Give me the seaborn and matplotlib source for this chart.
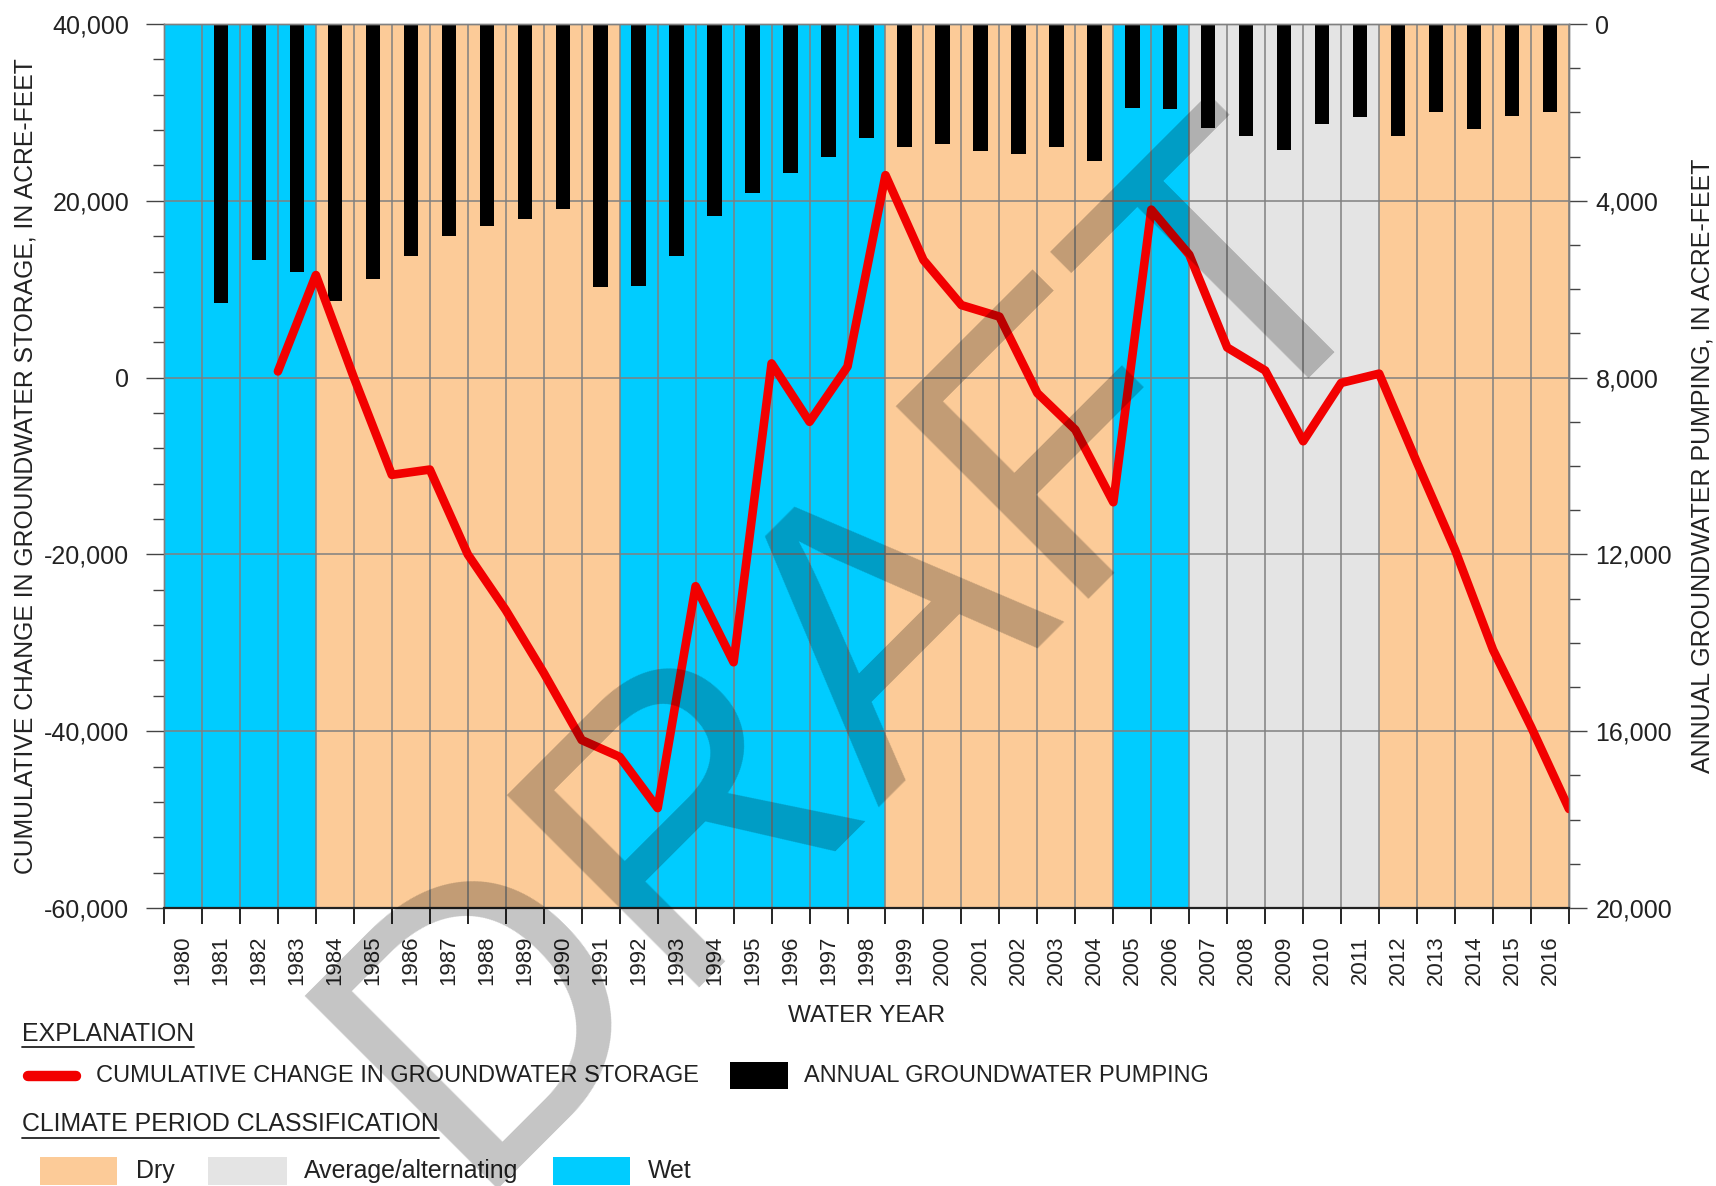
import numpy as np
import pandas as pd
import matplotlib
matplotlib.use("Agg")
import matplotlib.pyplot as plt
import seaborn as sns
from matplotlib.ticker import FixedLocator, MultipleLocator, FuncFormatter
from matplotlib.lines import Line2D
from matplotlib.patches import Rectangle

# ---------------- data ----------------
# cumulative change in groundwater storage, at water-year boundaries (acre-feet)
storage_x = list(range(1983, 2018))
storage_af = [700, 11600, 0, -11000, -10400, -20000, -26300, -33400, -41000,
              -42900, -48700, -23600, -32200, 1600, -5000, 1250, 22900, 13300,
              8200, 6900, -1760, -5900, -14100, 19000, 13900, 3400, 800,
              -7200, -600, 450, -9650, -19500, -30800, -39500, -48800]

# annual groundwater pumping (acre-feet)
pump_years = list(range(1981, 2017))
pump_af = [6310, 5340, 5600, 6270, 5780, 5250, 4790, 4580, 4420, 4190, 5940,
           5920, 5260, 4340, 3830, 3380, 3020, 2570, 2790, 2710, 2870, 2950,
           2780, 3110, 1910, 1920, 2350, 2530, 2860, 2270, 2110, 2530, 2000,
           2380, 2080, 1980]

# climate periods
period_start = [1980, 1984, 1992, 1999, 2005, 2007, 2012]
period_end = [1984, 1992, 1999, 2005, 2007, 2012, 2017]
period_class = ["Wet", "Dry", "Wet", "Dry", "Wet", "Average/alternating", "Dry"]

year_labels = [str(y) for y in range(1980, 2017)]

class_colors = {"Dry": "#FCCB98", "Average/alternating": "#E4E4E4", "Wet": "#00CCFF"}
RED = "#F20000"
GRID = "#808080"
TXT = "#222222"

# ---------------- figure ----------------
sns.set_style("white")
plt.rcParams["font.family"] = ["Liberation Sans", "DejaVu Sans"]

W, H = 1716, 1186
fig = plt.figure(figsize=(W / 100, H / 100), dpi=100)

def fx(px):
    return px / W

def fy(py):
    return 1 - py / H

ax = fig.add_axes([fx(164), fy(908), fx(1569) - fx(164), fy(24) - fy(908)])
ax2 = ax.twinx()
ax.set_zorder(3)
ax.patch.set_visible(False)
ax2.set_zorder(1)

# background climate bands (on ax2, behind bars)
for s, e, c in zip(period_start, period_end, period_class):
    ax2.axvspan(s, e, color=class_colors[c], zorder=0, lw=0)

# vertical grid lines at every year boundary
for yb in range(1980, 2018):
    ax2.axvline(yb, color=GRID, lw=1.1, zorder=1)

# bars
pump_df = pd.DataFrame({"x": np.array(pump_years) + 0.5, "pump": pump_af})
sns.barplot(data=pump_df, x="x", y="pump", native_scale=True, width=0.38,
            color="black", saturation=1, errorbar=None, ax=ax2, zorder=2,
            edgecolor="black", linewidth=0)

# storage line
stor_df = pd.DataFrame({"x": storage_x, "storage": storage_af})
sns.lineplot(data=stor_df, x="x", y="storage", color=RED, lw=6.2, ax=ax,
             solid_capstyle="round", solid_joinstyle="round")

# ---------------- axes ----------------
ax.set_xlim(1980, 2017)
ax.set_ylim(-60000, 40000)
ax2.set_ylim(20000, 0)

# horizontal grid
for v in range(-40000, 40001, 20000):
    ax2.axhline(20000 - (v + 60000) / 5, color=GRID, lw=1.1, zorder=1)

fmt = FuncFormatter(lambda v, p: f"{int(v):,}")
ax.yaxis.set_major_locator(FixedLocator(list(range(-60000, 40001, 20000))))
ax.yaxis.set_minor_locator(MultipleLocator(4000))
ax.yaxis.set_major_formatter(fmt)
ax.tick_params(axis="y", which="major", length=13, width=1.0, color="#444444",
               labelsize=18, pad=12, labelcolor=TXT, left=True)
ax.tick_params(axis="y", which="minor", length=8, width=1.0, color="#444444", left=True)

ax2.yaxis.set_major_locator(FixedLocator(list(range(0, 20001, 4000))))
ax2.yaxis.set_minor_locator(MultipleLocator(1000))
ax2.yaxis.set_major_formatter(fmt)
ax2.tick_params(axis="y", which="major", length=13, width=1.0, color="#444444",
                labelsize=18, pad=6, labelcolor=TXT, right=True)
ax2.tick_params(axis="y", which="minor", length=8, width=1.0, color="#444444", right=True)

ax.xaxis.set_major_locator(FixedLocator(list(range(1980, 2018))))
ax.xaxis.set_major_formatter(FuncFormatter(lambda v, p: ""))
ax.xaxis.set_minor_locator(FixedLocator([y + 0.5 for y in range(1980, 2017)]))
ax.set_xticklabels(year_labels, minor=True, rotation=90)
ax.tick_params(axis="x", which="major", length=11.5, width=1.2, color="black", bottom=True)
ax.tick_params(axis="x", which="minor", length=0, labelsize=16, pad=20, labelcolor=TXT, bottom=True)

for a in (ax, ax2):
    for sp in a.spines.values():
        sp.set_color(GRID)
        sp.set_linewidth(1.0)
ax.spines["bottom"].set_color("#222222")
ax.spines["bottom"].set_linewidth(1.6)
ax2.spines["bottom"].set_visible(False)

ax.set_xlabel("WATER YEAR", fontsize=17.5, color=TXT, labelpad=14)
ax.set_ylabel("CUMULATIVE CHANGE IN GROUNDWATER STORAGE, IN ACRE-FEET",
              fontsize=17.8, color=TXT, labelpad=4.5)
ax2.set_ylabel("ANNUAL GROUNDWATER PUMPING, IN ACRE-FEET", fontsize=18.0,
               color=TXT, labelpad=13, rotation=90)

# ---------------- explanation ----------------
HFS = 17.9
LFS = 17.0
t_expl = fig.text(fx(22), fy(1034), "EXPLANATION", fontsize=HFS, color=TXT, va="center", ha="left")
t_clim = fig.text(fx(22), fy(1124), "CLIMATE PERIOD CLASSIFICATION", fontsize=HFS, color=TXT,
                  va="center", ha="left")

fig.add_artist(Line2D([fx(28), fx(76)], [fy(1076), fy(1076)], color=RED, lw=7.5,
                      solid_capstyle="round"))
fig.text(fx(96), fy(1076), "CUMULATIVE CHANGE IN GROUNDWATER STORAGE", fontsize=LFS,
         color=TXT, va="center", ha="left")
fig.add_artist(Rectangle((fx(730), fy(1089)), fx(788) - fx(730), fy(1062) - fy(1089),
                         transform=fig.transFigure, color="black", lw=0))
fig.text(fx(804), fy(1076), "ANNUAL GROUNDWATER PUMPING", fontsize=LFS,
         color=TXT, va="center", ha="left")

patch_px = [(40, 117, 136), (208, 287, 304), (553, 630, 648)]
for (x0, x1, tx), name in zip(patch_px, ["Dry", "Average/alternating", "Wet"]):
    fig.add_artist(Rectangle((fx(x0), fy(1185)), fx(x1) - fx(x0), fy(1157) - fy(1185),
                             transform=fig.transFigure, color=class_colors[name], lw=0))
    fig.text(fx(tx), fy(1171), name, fontsize=HFS, color=TXT, va="center", ha="left")

# underlines
fig.canvas.draw()
r = fig.canvas.get_renderer()
for t, uy in ((t_expl, 1047), (t_clim, 1138)):
    bb = t.get_window_extent(renderer=r)
    fig.add_artist(Line2D([bb.x0 / W, bb.x1 / W], [fy(uy), fy(uy)], color=TXT, lw=1.3))

# watermark
fig.text(fx(932), fy(722), "DRAFT", fontsize=285, rotation=45, rotation_mode="anchor",
         ha="center", va="baseline", color="black", alpha=0.23, zorder=20)

fig.savefig("out.png", dpi=100)
